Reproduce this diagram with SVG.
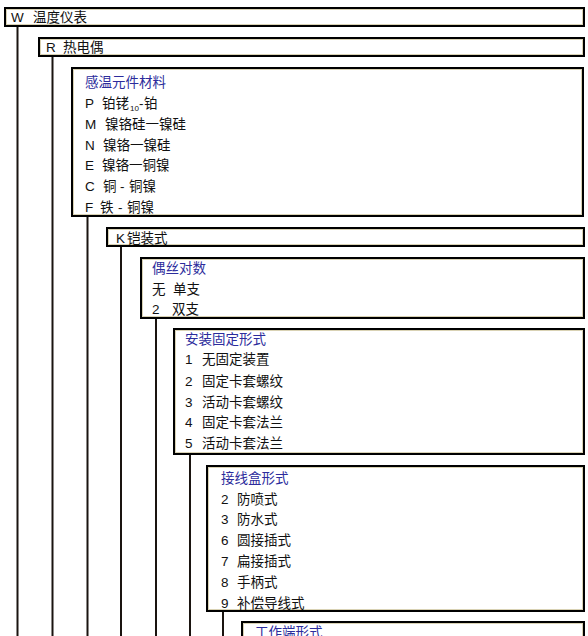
<svg xmlns="http://www.w3.org/2000/svg" width="588" height="636" viewBox="0 0 588 636">
<style>
.box{fill:#ffffff;stroke:#000000;stroke-width:2}
.in{fill:none;stroke:#d9d2b4;stroke-width:1}
.ln{stroke:#1a1410;stroke-width:2;fill:none}
text{font-family:"Liberation Sans","Noto Sans CJK SC",sans-serif;font-size:13.5px;fill:#111111}
.t{fill:#2c2c9c}
.sub{font-size:8px}
</style>
<rect x="0" y="0" width="588" height="636" fill="#ffffff"/>
<g id="connectors">
<line class="ln" x1="17.5" y1="27" x2="17.5" y2="636"/>
<line class="ln" x1="52.5" y1="57" x2="52.5" y2="636"/>
<line class="ln" x1="87.5" y1="217" x2="87.5" y2="636"/>
<line class="ln" x1="121" y1="247" x2="121" y2="636"/>
<line class="ln" x1="156" y1="319" x2="156" y2="636"/>
<line class="ln" x1="190" y1="455" x2="190" y2="636"/>
<line class="ln" x1="223" y1="612" x2="223" y2="636"/>
</g>
<g id="n-W">
<rect class="box" x="5" y="8" width="579" height="18"/>
<rect class="in" x="6.5" y="9.5" width="576" height="15"/>
<text x="11" y="22">W</text><text x="33" y="22">温度仪表</text>
</g>
<g id="n-R">
<rect class="box" x="39" y="38" width="545" height="18"/>
<rect class="in" x="40.5" y="39.5" width="542" height="15"/>
<text x="46" y="52">R</text><text x="63" y="52">热电偶</text>
</g>
<g id="n-material">
<rect class="box" x="72" y="68" width="511" height="148"/>
<rect class="in" x="73.5" y="69.5" width="508" height="145"/>
<text class="t" x="85" y="87">感温元件材料</text>
<text x="85" y="108">P</text><text x="102" y="108">铂铑</text><text class="sub" x="130" y="111">10</text><text x="139" y="108">-</text><text x="144" y="108">铂</text>
<text x="85" y="129">M</text><text x="105" y="129">镍铬硅一镍硅</text>
<text x="85" y="150">N</text><text x="103" y="150">镍铬一镍硅</text>
<text x="85" y="170">E</text><text x="102" y="170">镍铬一铜镍</text>
<text x="85" y="191">C</text><text x="103" y="191">铜</text><text x="120" y="191">-</text><text x="129" y="191">铜镍</text>
<text x="85" y="212">F</text><text x="100" y="212">铁</text><text x="118" y="212">-</text><text x="127" y="212">铜镍</text>
</g>
<g id="n-K">
<rect class="box" x="107" y="228" width="477" height="18"/>
<rect class="in" x="108.5" y="229.5" width="474" height="15"/>
<text x="116" y="243">K</text><text x="127" y="243">铠装式</text>
</g>
<g id="n-pairs">
<rect class="box" x="141" y="258" width="443" height="60"/>
<rect class="in" x="142.5" y="259.5" width="440" height="57"/>
<text class="t" x="152" y="273">偶丝对数</text>
<text x="152" y="294">无</text><text x="173" y="294">单支</text>
<text x="152" y="314">2</text><text x="172" y="314">双支</text>
</g>
<g id="n-mount">
<rect class="box" x="174" y="329" width="410" height="125"/>
<rect class="in" x="175.5" y="330.5" width="407" height="122"/>
<text class="t" x="185" y="344">安装固定形式</text>
<text x="185" y="364">1</text><text x="202" y="364">无固定装置</text>
<text x="185" y="386">2</text><text x="202" y="386">固定卡套螺纹</text>
<text x="185" y="407">3</text><text x="202" y="407">活动卡套螺纹</text>
<text x="185" y="427">4</text><text x="202" y="427">固定卡套法兰</text>
<text x="185" y="448">5</text><text x="202" y="448">活动卡套法兰</text>
</g>
<g id="n-junction">
<rect class="box" x="207" y="466" width="377" height="145"/>
<rect class="in" x="208.5" y="467.5" width="374" height="142"/>
<text class="t" x="221" y="483">接线盒形式</text>
<text x="221" y="504">2</text><text x="237" y="504">防喷式</text>
<text x="221" y="524">3</text><text x="237" y="524">防水式</text>
<text x="221" y="545">6</text><text x="237" y="545">圆接插式</text>
<text x="221" y="566">7</text><text x="237" y="566">扁接插式</text>
<text x="221" y="587">8</text><text x="237" y="587">手柄式</text>
<text x="221" y="608">9</text><text x="237" y="608">补偿导线式</text>
</g>
<g id="n-workend">
<rect class="box" x="242" y="622" width="342" height="30"/>
<rect class="in" x="243.5" y="623.5" width="339" height="27"/>
<text class="t" x="255" y="637">工作端形式</text>
</g>
</svg>
